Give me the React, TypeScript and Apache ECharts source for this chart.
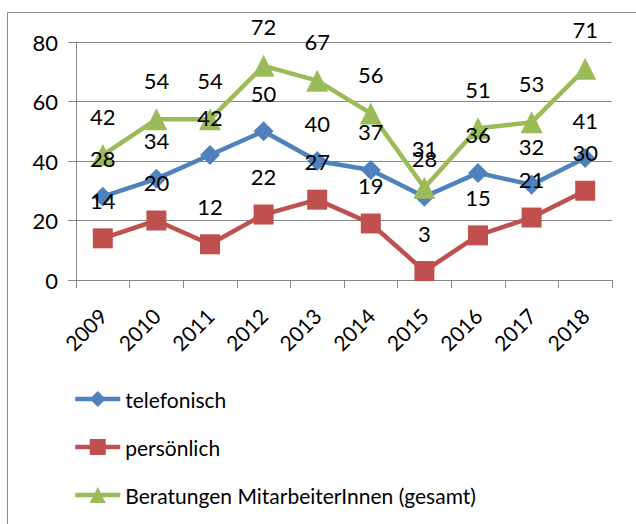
import React, { useEffect, useRef } from "react";
import * as echarts from "echarts";

const years = ["2009", "2010", "2011", "2012", "2013", "2014", "2015", "2016", "2017", "2018"];
const telefonisch = [28, 34, 42, 50, 40, 37, 28, 36, 32, 41];
const persoenlich = [14, 20, 12, 22, 27, 19, 3, 15, 21, 30];
const gesamt = [42, 54, 54, 72, 67, 56, 31, 51, 53, 71];
const yTicks = { min: 0, max: 80, interval: 20 };

const FONT = "Lato";

export default function App() {
  const ref = useRef<HTMLDivElement>(null);
  useEffect(() => {
    if (!ref.current) return;
    const chart = echarts.init(ref.current, undefined, { renderer: "svg" });
    const label = {
      show: true,
      position: "top" as const,
      distance: 17,
      color: "#000",
      fontSize: 22,
      fontFamily: FONT,
    };
    const mk = (name: string, data: number[], color: string, symbol: string, size: number) => ({
      name,
      type: "line",
      data,
      symbol,
      symbolSize: size,
      color,
      lineStyle: { color, width: 4.5 },
      itemStyle: { color },
      label,
    });
    chart.setOption({
      animation: false,
      textStyle: { fontFamily: FONT },
      graphic: [
        {
          type: "rect",
          shape: { x: 7.5, y: 12.5, width: 700, height: 600 },
          style: { fill: "none", stroke: "#8c8c8c", lineWidth: 1 },
          silent: true,
          z: -10,
        },
      ],
      grid: { left: 76, right: 24, top: 42, bottom: 244, containLabel: false },
      xAxis: {
        type: "category",
        data: years,
        boundaryGap: true,
        axisLine: { lineStyle: { color: "#868686", width: 1 } },
        axisTick: { show: true, length: 8, lineStyle: { color: "#868686" } },
        axisLabel: {
          rotate: 45,
          fontSize: 21,
          color: "#000",
          margin: 32,
          fontFamily: FONT,
          interval: 0,
        },
      },
      yAxis: {
        type: "value",
        min: yTicks.min,
        max: yTicks.max,
        interval: yTicks.interval,
        axisLine: { show: true, lineStyle: { color: "#868686", width: 1 } },
        axisTick: { show: true, length: 8, lineStyle: { color: "#868686" } },
        axisLabel: { fontSize: 22, color: "#000", margin: 18, fontFamily: FONT },
        splitLine: { lineStyle: { color: "#868686", width: 1 } },
      },
      legend: {
        orient: "vertical",
        left: 73,
        top: 387,
        padding: 0,
        itemWidth: 45,
        itemHeight: 20,
        itemGap: 24,
        lineStyle: { width: 4.5 },
        textStyle: { fontSize: 21, color: "#000", fontFamily: FONT, lineHeight: 24 },
        data: ["telefonisch", "persönlich", "Beratungen MitarbeiterInnen (gesamt)"],
      },
      series: [
        mk("telefonisch", telefonisch, "#4F81BD", "diamond", 20),
        mk("persönlich", persoenlich, "#C0504D", "rect", 20),
        mk("Beratungen MitarbeiterInnen (gesamt)", gesamt, "#9BBB59", "triangle", 22),
      ],
    });
    return () => chart.dispose();
  }, []);
  return (
    <div
      ref={ref}
      style={{ position: "absolute", left: 0, top: 0, width: 636, height: 524, background: "#fff" }}
    />
  );
}
